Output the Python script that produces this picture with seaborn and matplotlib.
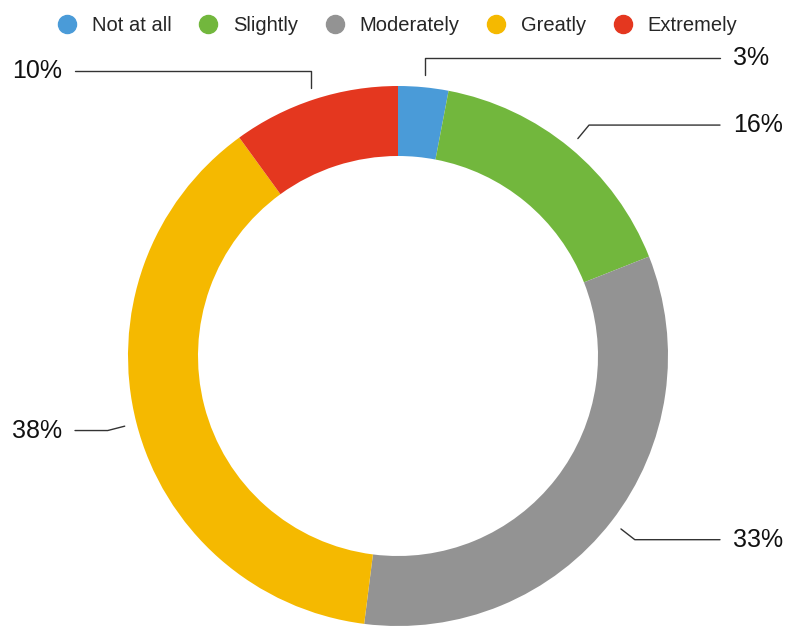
import numpy as np
import matplotlib
matplotlib.use('Agg')
import matplotlib.pyplot as plt
from matplotlib.lines import Line2D
import seaborn as sns

categories = ['Not at all', 'Slightly', 'Moderately', 'Greatly', 'Extremely']
shares = [3, 16, 33, 38, 10]
pct_labels = ['3%', '16%', '33%', '38%', '10%']
colours = ['#4a9bd8', '#72b73d', '#939393', '#f5b900', '#e4371f']

sns.set_theme(style='white')
plt.rcParams['font.family'] = ['Liberation Sans', 'DejaVu Sans']
palette = sns.color_palette(colours)

fig = plt.figure(figsize=(7.86, 6.26), dpi=100)
ax = fig.add_axes([0, 0, 1, 1])

cx, cy, R = 398, 626 - 356, 270
wedges, _ = ax.pie(shares, colors=palette, startangle=90, counterclock=False,
                   center=(cx, cy), radius=R,
                   wedgeprops=dict(width=70, linewidth=0, antialiased=True))

ax.set_xlim(0, 786)
ax.set_ylim(0, 626)
ax.set_aspect('equal')
ax.axis('off')

# leader lines: short stub out of the ring, then horizontal to the label
for w, lab in zip(wedges, pct_labels):
    mid = np.deg2rad((w.theta1 + w.theta2) / 2)
    x0, y0 = cx + 1.045 * R * np.cos(mid), cy + 1.045 * R * np.sin(mid)
    x1, y1 = cx + 1.11 * R * np.cos(mid), cy + 1.11 * R * np.sin(mid)
    if abs(np.sin(mid)) > 0.9:
        x1 = x0  # near the top the stub goes straight up
    if np.cos(mid) >= 0:
        xe, xt, ha = 720, 733, 'left'
    else:
        xe, xt, ha = 75, 62, 'right'
    ax.plot([x0, x1, xe], [y0, y1, y1], color='#333333', lw=1)
    ax.text(xt, y1, lab, ha=ha, va='center', fontsize=18, color='#111111')

handles = [Line2D([], [], marker='o', ls='', markersize=13, color=c) for c in palette]
ax.legend(handles, categories, ncol=5, loc='upper center', bbox_to_anchor=(0.505, 1.003),
          frameon=False, fontsize=14.5, handletextpad=0.72, columnspacing=1.33,
          handlelength=1.0)

fig.savefig('out.png', dpi=100)
